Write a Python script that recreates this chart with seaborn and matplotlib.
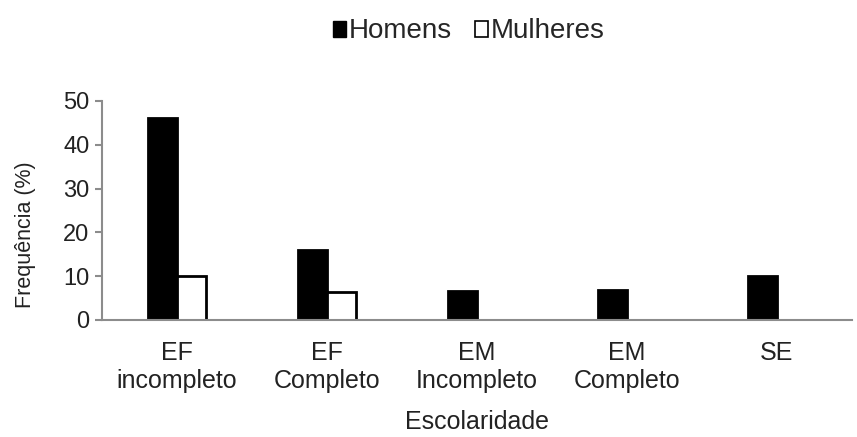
import matplotlib
matplotlib.use("Agg")
import matplotlib.pyplot as plt
import seaborn as sns
import pandas as pd
from matplotlib.patches import Patch

categorias = ["EF\nincompleto", "EF\nCompleto", "EM\nIncompleto", "EM\nCompleto", "SE"]
homens = [46.0, 16.0, 6.6, 6.8, 10.0]
mulheres = [10.0, 6.3, 0.0, 0.0, 0.0]

df = pd.DataFrame({
    "Escolaridade": categorias * 2,
    "Frequência": homens + mulheres,
    "Sexo": ["Homens"] * 5 + ["Mulheres"] * 5,
})

sns.set_theme(style="white")
plt.rcParams["font.family"] = ["Liberation Sans", "DejaVu Sans"]

fig = plt.figure(figsize=(8.57, 4.37), dpi=100)
ax = fig.add_axes([0.119, 0.268, 0.875, 0.501])

sns.barplot(data=df, x="Escolaridade", y="Frequência", hue="Sexo",
            palette={"Homens": "black", "Mulheres": "white"},
            edgecolor="black", linewidth=2, width=0.385, ax=ax, legend=False)

ax.set_xlim(-0.5, 4.5)
ax.set_ylim(0, 50)
ax.set_yticks([0, 10, 20, 30, 40, 50])
gray = "#8c8c8c"
for s in ["top", "right"]:
    ax.spines[s].set_visible(False)
for s in ["left", "bottom"]:
    ax.spines[s].set_color(gray)
    ax.spines[s].set_linewidth(1.5)

ax.set_xticks(range(5))
ax.set_xticklabels(categorias, linespacing=1.25)
ax.set_xticks([-0.5, 0.5, 1.5, 2.5, 3.5], minor=True)
ax.tick_params(axis="x", which="major", length=0, pad=15, labelsize=18, colors="#222222")
ax.tick_params(axis="x", which="minor", length=6, width=1.5, color=gray, direction="out")
ax.tick_params(axis="y", which="major", length=5, width=1.5, color=gray, direction="out",
               labelsize=17, labelcolor="#222222", left=True, pad=4)
ax.set_ylabel("Frequência (%)", fontsize=15.5, color="#222222")
ax.yaxis.set_label_coords(-0.088, 0.39)
ax.set_xlabel("Escolaridade", fontsize=18, labelpad=12, color="#222222")

handles = [Patch(facecolor="black", edgecolor="black", label="Homens"),
           Patch(facecolor="white", edgecolor="black", linewidth=1.2, label="Mulheres")]
fig.legend(handles=handles, loc="upper center", bbox_to_anchor=(0.547, 1.015), ncol=2,
           frameon=False, fontsize=20, handlelength=0.5, handleheight=0.5,
           handletextpad=0.1, columnspacing=0.8)

fig.savefig("out.png", dpi=100)
